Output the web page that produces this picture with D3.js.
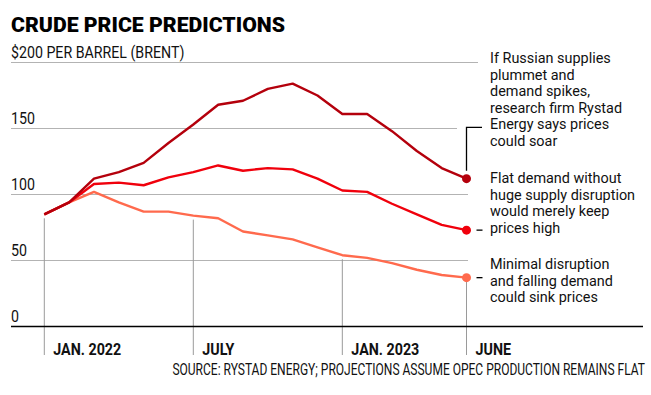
<!DOCTYPE html>
<html>
<head>
<meta charset="utf-8">
<script src="https://cdn.jsdelivr.net/npm/d3@7"></script>
<style>
  body { margin: 0; background: #fff; }
  svg { display: block; }
  text { font-family: Roboto, "Noto Sans", sans-serif; }
</style>
</head>
<body>
<script>
// monthly points, Jan 2022 .. June 2023
const months = ["2022-01","2022-02","2022-03","2022-04","2022-05","2022-06","2022-07","2022-08","2022-09",
                "2022-10","2022-11","2022-12","2023-01","2023-02","2023-03","2023-04","2023-05","2023-06"];
const soar = [85, 94, 112, 117, 124, 139, 153, 168, 171, 180, 184, 175, 161, 161, 148, 133, 120, 112];
const high = [85, 94, 108, 109, 107, 113, 117, 122, 118, 120, 119, 112, 103, 102, 93, 85, 77, 73];
const sink = [85, 94, 102, 94, 87, 87, 84, 82, 72, 69, 66, 60, 54, 52, 48, 43, 39, 37];

const yTicks = [0, 50, 100, 150, 200];
const xTicks = [["2022-01", "JAN. 2022"], ["2022-07", "JULY"], ["2023-01", "JAN. 2023"], ["2023-06", "JUNE"]];

const notes = [
  ["If Russian supplies", "plummet and", "demand spikes,", "research firm Rystad", "Energy says prices", "could soar"],
  ["Flat demand without", "huge supply disruption", "would merely keep", "prices high"],
  ["Minimal disruption", "and falling demand", "could sink prices"]
];

const width = 651, height = 395;
const svg = d3.select("body").append("svg")
    .attr("width", width)
    .attr("height", height);

const x = d3.scalePoint().domain(months).range([44.3, 466.5]);
const y = d3.scaleLinear().domain([0, 200]).range([326.5, 62.5]);

// squeeze text horizontally so a regular face reads like the narrow one in the original
function condense(sel, factor) {
  sel.each(function() {
    const w = this.getComputedTextLength();
    d3.select(this)
        .attr("textLength", w * factor)
        .attr("lengthAdjust", "spacingAndGlyphs");
  });
}

// title
svg.append("text")
    .attr("x", 11).attr("y", 31.5)
    .attr("font-family", "Lato, 'DejaVu Sans', sans-serif")
    .attr("font-weight", 900)
    .attr("font-size", 19.5)
    .attr("textLength", 274)
    .attr("lengthAdjust", "spacingAndGlyphs")
    .text("CRUDE PRICE PREDICTIONS");

// gridlines
const gridEnd = { 200: 478, 150: 457 };
svg.selectAll(".grid")
    .data(yTicks.filter(d => d > 0))
    .join("line")
    .attr("class", "grid")
    .attr("x1", 11)
    .attr("x2", d => gridEnd[d] || 468)
    .attr("y1", d => y(d)).attr("y2", d => y(d))
    .attr("stroke", "#b3b3b3")
    .attr("stroke-width", 1);

// y labels
const ylab = svg.selectAll(".ylab")
    .data(yTicks)
    .join("text")
    .attr("class", "ylab")
    .attr("x", 11)
    .attr("y", d => y(d) - 5)
    .attr("font-size", 16.5)
    .attr("fill", "#111")
    .text(d => d === 200 ? "$200 PER BARREL (BRENT)" : d);
condense(ylab, 0.86);

// x ticks: vertical rules that start just under the lowest line
svg.selectAll(".xtick")
    .data(xTicks)
    .join("line")
    .attr("class", "xtick")
    .attr("x1", d => x(d[0])).attr("x2", d => x(d[0]))
    .attr("y1", d => y(sink[months.indexOf(d[0])]) + 4)
    .attr("y2", 355)
    .attr("stroke", "#9a9a9a")
    .attr("stroke-width", 1);

const xlab = svg.selectAll(".xlab")
    .data(xTicks)
    .join("text")
    .attr("class", "xlab")
    .attr("x", d => x(d[0]) + 9)
    .attr("y", 355)
    .attr("font-size", 17)
    .attr("font-weight", "bold")
    .attr("fill", "#111")
    .text(d => d[1]);
condense(xlab, 0.84);

// baseline
svg.append("line")
    .attr("x1", 11).attr("x2", 643)
    .attr("y1", y(0)).attr("y2", y(0))
    .attr("stroke", "#000")
    .attr("stroke-width", 1.5);

// series
const series = [
  { values: sink, color: "#ff6a4d" },
  { values: high, color: "#f0000c" },
  { values: soar, color: "#b4000c" }
];
const line = d3.line()
    .x((d, i) => x(months[i]))
    .y(d => y(d));

series.forEach(s => {
  svg.append("path")
      .attr("d", line(s.values))
      .attr("fill", "none")
      .attr("stroke", s.color)
      .attr("stroke-width", 2.4)
      .attr("stroke-linejoin", "round");
  const last = s.values.length - 1;
  svg.append("circle")
      .attr("cx", x(months[last]))
      .attr("cy", y(s.values[last]))
      .attr("r", 4.5)
      .attr("fill", s.color);
});

// leaders
const lastX = x(months[months.length - 1]);
svg.append("path")
    .attr("d", `M${lastX},${y(soar[17]) - 8}V127.3H482`)
    .attr("fill", "none")
    .attr("stroke", "#000")
    .attr("stroke-width", 1.3);
[high, sink].forEach(v => {
  svg.append("line")
      .attr("x1", 476.5).attr("x2", 482.5)
      .attr("y1", y(v[17])).attr("y2", y(v[17]))
      .attr("stroke", "#000")
      .attr("stroke-width", 1.3);
});

// annotations
const noteTop = [63.3, 183.3, 269.3];
notes.forEach((lines, k) => {
  const t = svg.append("g")
      .selectAll("text")
      .data(lines)
      .join("text")
      .attr("x", 490)
      .attr("y", (d, i) => noteTop[k] + i * 16.5)
      .attr("font-size", 15.5)
      .attr("fill", "#111")
      .text(d => d);
  condense(t, 0.93);
});

// source, scaled in x so it spans the same width as the original
const src = svg.append("text")
    .attr("text-anchor", "end")
    .attr("font-size", 16.5)
    .attr("fill", "#111")
    .text("SOURCE: RYSTAD ENERGY; PROJECTIONS ASSUME OPEC PRODUCTION REMAINS FLAT");
const srcW = src.node().getComputedTextLength();
src.attr("transform", `translate(645,374.5) scale(${473 / srcW},1)`);
</script>
</body>
</html>
